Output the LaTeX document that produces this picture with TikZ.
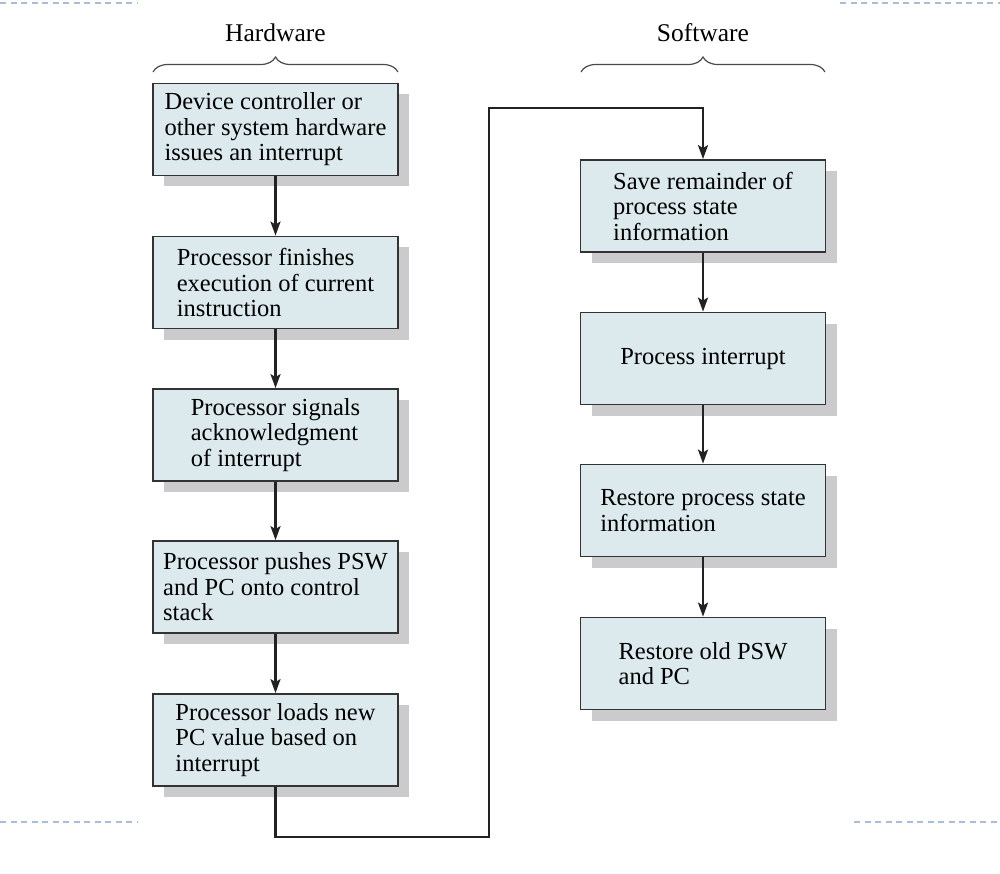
\documentclass[tikz,border=0pt]{standalone}
\usepackage{fontspec}
\setmainfont{Liberation Serif}
\usetikzlibrary{arrows.meta,shadows,decorations.pathreplacing}
\definecolor{boxfill}{HTML}{DCEAED}
\definecolor{boxline}{HTML}{333333}
\definecolor{shadowgray}{HTML}{CBCBCD}
\definecolor{arrowline}{HTML}{222222}
\definecolor{braceline}{HTML}{4A4A4A}
\definecolor{framecol}{HTML}{A9BED6}
\begin{document}
\begin{tikzpicture}[x=1pt, y=-1pt,
		box/.style={rectangle, draw=boxline, line width=1.8pt, fill=boxfill, minimum width=245pt, minimum height=92pt, inner sep=0pt, align=left, font=\fontsize{24.5}{25.5}\selectfont, drop shadow={shadow xshift=11pt, shadow yshift=-11pt, fill=shadowgray, opacity=1}},
		arrow/.style={-{Stealth[length=14pt, width=10pt, inset=3pt]}, line width=2.4pt, draw=arrowline},
		brace/.style={decorate, decoration={brace, amplitude=15pt}, line width=1.2pt, draw=braceline},
		frame/.style={draw=framecol, line width=1.5pt, dash pattern=on 6pt off 4.5pt}]
		\useasboundingbox (0,0) rectangle (1000,874);
		% slide frame corners
		\draw[frame] (0,3) -- (138,3);
		\draw[frame] (840,3) -- (1000,3);
		\draw[frame] (0,822) -- (138,822);
		\draw[frame] (854,822) -- (1000,822);
		% headings
		\node[font=\fontsize{25.5}{27}\selectfont] (hw) at (275.5,33) {Hardware};
		\node[font=\fontsize{25.5}{27}\selectfont] (sw) at (703,33) {Software};
		\draw[brace] (153,72) -- (398,72);
		\draw[brace] (581,72) -- (825,72);
		% hardware steps
		\node[box] (h1) at (275.5,129.5) {Device controller or\\other system hardware\\issues an interrupt};
		\node[box] (h2) at (275.5,282.5) {Processor finishes\\execution of current\\instruction};
		\node[box] (h3) at (275.5,435) {Processor signals\\acknowledgment\\of interrupt};
		\node[box] (h4) at (275.5,587) {Processor pushes PSW\\and PC onto control\\stack};
		\node[box] (h5) at (275.5,740) {Processor loads new\\PC value based on\\interrupt};
		% software steps
		\node[box] (s1) at (703,206) {Save remainder of\\process state\\information};
		\node[box] (s2) at (703,358.5) {Process interrupt};
		\node[box] (s3) at (703,510.5) {Restore process state\\information};
		\node[box] (s4) at (703,663.5) {Restore old PSW\\and PC};
		\coordinate (b1) at (489,837);
		\coordinate (t1) at (489,108);
		\draw[arrow] (h1) -- (h2);
		\draw[arrow] (h2) -- (h3);
		\draw[arrow] (h3) -- (h4);
		\draw[arrow] (h4) -- (h5);
		\draw[arrow] (h5.south) |- (b1) -- (t1) -| (s1.north);
		\draw[arrow] (s1) -- (s2);
		\draw[arrow] (s2) -- (s3);
		\draw[arrow] (s3) -- (s4);
	\end{tikzpicture}
\end{document}
